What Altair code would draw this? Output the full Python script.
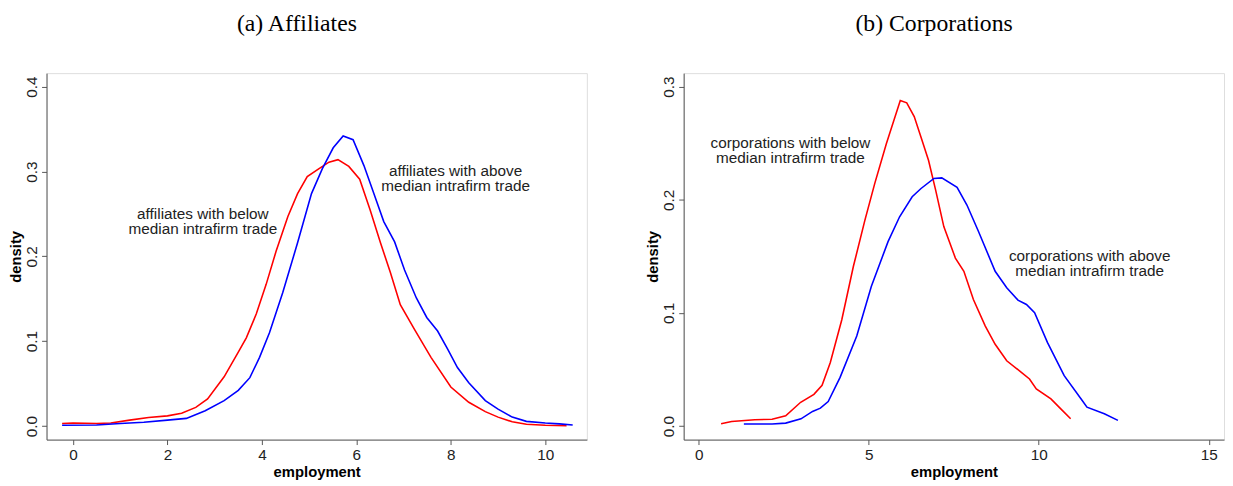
import altair as alt
import pandas as pd

# ---- data ----
aff_below_x = [-0.23, 0.0, 0.5, 0.8, 1.2, 1.6, 2.0, 2.3, 2.6, 2.85, 3.2, 3.5, 3.67, 3.88, 4.09, 4.30,
               4.55, 4.755, 4.96, 5.21, 5.42, 5.61, 5.84, 6.07, 6.29, 6.51, 6.72, 6.93, 7.23, 7.58,
               8.0, 8.38, 8.73, 9.0, 9.3, 9.6, 10.0, 10.45]
aff_below_y = [0.003, 0.0035, 0.003, 0.0035, 0.007, 0.010, 0.012, 0.015, 0.022, 0.032, 0.058, 0.087,
               0.104, 0.132, 0.167, 0.206, 0.247, 0.274, 0.294, 0.3035, 0.311, 0.314, 0.306, 0.291,
               0.255, 0.216, 0.181, 0.143, 0.114, 0.081, 0.046, 0.028, 0.017, 0.0105, 0.005, 0.002,
               0.001, 0.0005]

aff_above_x = [-0.23, 0.5, 1.0, 1.5, 2.0, 2.4, 2.8, 3.2, 3.5, 3.745, 3.95, 4.16, 4.44, 4.755, 5.05,
               5.28, 5.51, 5.72, 5.93, 6.16, 6.37, 6.58, 6.81, 7.02, 7.27, 7.49, 7.72, 7.93, 8.14,
               8.38, 8.73, 9.0, 9.3, 9.6, 10.0, 10.3, 10.58]
aff_above_y = [0.001, 0.0012, 0.003, 0.0045, 0.007, 0.009, 0.018, 0.030, 0.042, 0.057, 0.081, 0.110,
               0.157, 0.216, 0.274, 0.3035, 0.328, 0.342, 0.3375, 0.307, 0.274, 0.241, 0.217, 0.184,
               0.151, 0.128, 0.112, 0.091, 0.069, 0.051, 0.030, 0.020, 0.0105, 0.0055, 0.0035,
               0.0025, 0.0012]

corp_below_x = [0.66, 0.97, 1.65, 2.16, 2.56, 3.0, 3.39, 3.63, 3.87, 4.21, 4.55, 4.89, 5.18, 5.52,
                5.93, 6.12, 6.34, 6.54, 6.76, 6.97, 7.21, 7.55, 7.80, 8.08, 8.43, 8.72, 9.06, 9.49,
                9.73, 9.93, 10.36, 10.65, 10.94]
corp_below_y = [0.002, 0.004, 0.0056, 0.006, 0.009, 0.021, 0.028, 0.036, 0.056, 0.094, 0.141, 0.182,
                0.2145, 0.2496, 0.2877, 0.2857, 0.2736, 0.2554, 0.235, 0.2086, 0.1763, 0.1485,
                0.1368, 0.1119, 0.0884, 0.0723, 0.0577, 0.0475, 0.0416, 0.0328, 0.024, 0.0152, 0.0064]

corp_above_x = [1.33, 2.16, 2.56, 3.01, 3.35, 3.58, 3.81, 4.16, 4.65, 5.08, 5.57, 5.91, 6.28, 6.54,
                6.92, 7.15, 7.60, 7.89, 8.23, 8.72, 9.06, 9.39, 9.64, 9.88, 10.26, 10.75, 11.28,
                11.42, 11.93, 12.33]
corp_above_y = [0.0018, 0.0018, 0.0026, 0.0064, 0.0129, 0.0158, 0.0217, 0.043, 0.0796, 0.1236,
                0.163, 0.185, 0.2027, 0.210, 0.2189, 0.2194, 0.211, 0.1954, 0.172, 0.1368, 0.1222,
                0.1113, 0.1075, 0.1002, 0.0738, 0.0445, 0.0225, 0.0167, 0.0108, 0.005]

aff_labels = ["affiliates with below\nmedian intrafirm trade",
              "affiliates with above\nmedian intrafirm trade"]
aff_label_x = [2.75, 8.1]
aff_label_y = [0.25, 0.30]

corp_labels = ["corporations with below\nmedian intrafirm trade",
               "corporations with above\nmedian intrafirm trade"]
corp_label_x = [2.7, 11.5]
corp_label_y = [0.25, 0.15]

titles = ["(a) Affiliates", "(b) Corporations"]
groups = ["below", "above"]
colors = ["#FF0000", "#0000FF"]


def series_df(bx, by, ax, ay):
    return pd.concat([
        pd.DataFrame({"x": bx, "y": by, "group": groups[0]}),
        pd.DataFrame({"x": ax, "y": ay, "group": groups[1]}),
    ], ignore_index=True)


AXIS_COLOR = "#555555"


def panel(df, lab_x, lab_y, labs, xdom, ydom, xticks, yticks, title):
    x_enc = alt.X("x:Q", scale=alt.Scale(domain=xdom, nice=False, zero=False),
                  axis=alt.Axis(values=xticks, format="d", title="employment",
                                grid=False, domainColor=AXIS_COLOR, tickColor=AXIS_COLOR,
                                tickSize=5, labelFontSize=15.5, labelFont="Liberation Sans",
                                labelColor="#222222", labelPadding=3,
                                titleFont="Liberation Sans", titleFontSize=15,
                                titleFontWeight="bold", titleColor="black", titlePadding=2))
    y_enc = alt.Y("y:Q", scale=alt.Scale(domain=ydom, nice=False, zero=False),
                  axis=alt.Axis(values=yticks, format=".1f", title="density",
                                grid=False, domainColor=AXIS_COLOR, tickColor=AXIS_COLOR,
                                tickSize=5, labelFontSize=15.5, labelFont="Liberation Sans",
                                labelColor="#222222", labelAngle=270, labelAlign="center",
                                labelBaseline="bottom", labelPadding=2,
                                titleFont="Liberation Sans", titleFontSize=15,
                                titleFontWeight="bold", titleColor="black", titlePadding=1))
    lines = alt.Chart(df).mark_line(strokeWidth=1.6, clip=True).encode(
        x=x_enc, y=y_enc,
        color=alt.Color("group:N", scale=alt.Scale(domain=groups, range=colors), legend=None),
        detail="group:N",
    )
    ldf = pd.DataFrame({"x": lab_x, "y": lab_y, "label": labs})
    text = alt.Chart(ldf).mark_text(font="Liberation Sans", fontSize=15.5, lineBreak="\n",
                                    lineHeight=15, align="center", baseline="middle",
                                    color="#222222").encode(
        x="x:Q", y="y:Q", text="label:N")
    return alt.layer(lines, text).properties(
        width=547, height=371,
        title=alt.TitleParams(text=title, font="Liberation Serif", fontSize=24,
                              fontWeight="normal", color="black", anchor="middle",
                              frame="group", offset=35, dx=-20, dy=-3))


left = panel(series_df(aff_below_x, aff_below_y, aff_above_x, aff_above_y),
             aff_label_x, aff_label_y, aff_labels,
             [-0.56, 10.88], [-0.016, 0.416], [0, 2, 4, 6, 8, 10], [0, 0.1, 0.2, 0.3, 0.4],
             titles[0])
right = panel(series_df(corp_below_x, corp_below_y, corp_above_x, corp_above_y),
              corp_label_x, corp_label_y, corp_labels,
              [-0.44, 15.45], [-0.012, 0.312], [0, 5, 10, 15], [0, 0.1, 0.2, 0.3],
              titles[1])

chart = alt.hconcat(left, right, spacing=58).resolve_scale(
    x="independent", y="independent", color="shared"
).properties(padding=0).configure_view(stroke=None).configure(background="white")

chart.save("out.html", embed_options={"renderer": "svg", "actions": False})
